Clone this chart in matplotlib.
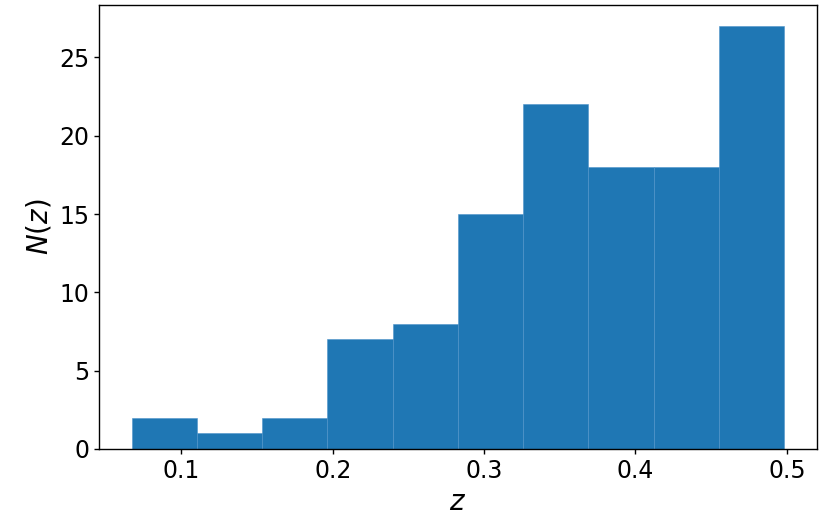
import numpy as np
import matplotlib
matplotlib.use('Agg')
import matplotlib.pyplot as plt

# histogram of z: 10 equal bins
z_min = 0.0671
z_max = 0.4982
counts = [2, 1, 2, 7, 8, 15, 22, 18, 18, 27]

edges = np.linspace(z_min, z_max, len(counts) + 1)
centers = 0.5 * (edges[:-1] + edges[1:])

fig = plt.figure(figsize=(8.25, 5.25), dpi=100)
ax = fig.add_axes([0.12, 0.145, 0.870, 0.8455])
ax.hist(centers, bins=edges, weights=counts, color='#1f77b4',
        edgecolor='#4f93c9', linewidth=0.4)
ax.set_xlabel(r'$z$', fontsize=20, labelpad=4)
ax.set_ylabel(r'$N(z)$', fontsize=20)
ax.tick_params(labelsize=17, width=1.0)
for s in ax.spines.values():
    s.set_linewidth(1.0)
ax.set_xticks([0.1, 0.2, 0.3, 0.4, 0.5])
ax.set_yticks([0, 5, 10, 15, 20, 25])
fig.savefig('out.png', dpi=100)
